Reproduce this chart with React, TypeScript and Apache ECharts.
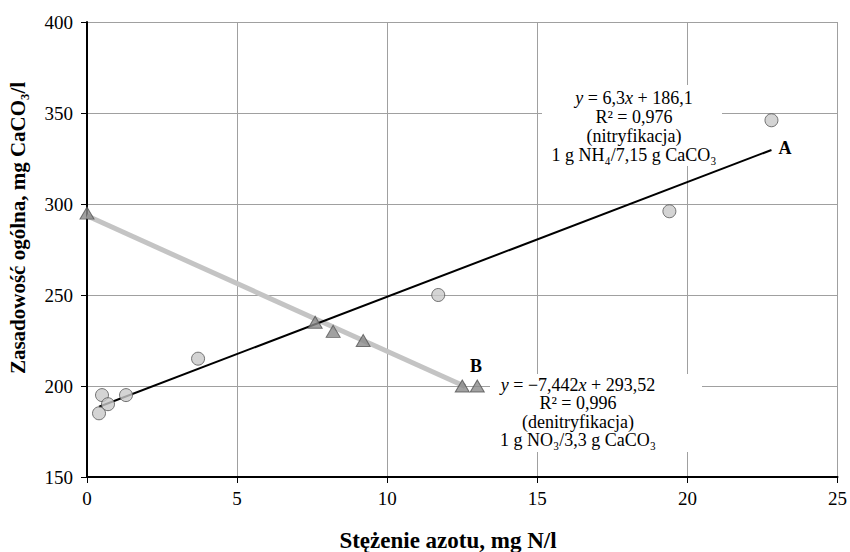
import React, { useEffect, useRef } from "react";
import * as echarts from "echarts";

// Nitrification series (circles)
const circleX = [0.4, 0.5, 0.7, 1.3, 3.7, 11.7, 19.4, 22.8];
const circleY = [185, 195, 190, 195, 215, 250, 296, 346];
// Denitrification series (triangles)
const triX = [0, 7.6, 8.2, 9.2, 12.5, 13.0];
const triY = [295, 235, 230, 225, 200, 200];
// Trend line endpoints
const trendAX = [0.4, 22.8];
const trendAY = [188.6, 329.7];
const trendBX = [0, 12.6];
const trendBY = [293.5, 199.7];

const xTicks = { min: 0, max: 25, interval: 5 };
const yTicks = { min: 150, max: 400, interval: 50 };

const xTitle = "Stężenie azotu, mg N/l";
const yTitle = "Zasadowość ogólna, mg CaCO₃/l";
const annA = "{i|y} = 6,3{i|x} + 186,1\nR² = 0,976\n(nitryfikacja)\n1 g NH₄/7,15 g CaCO₃";
const annB = "{i|y} = −7,442{i|x} + 293,52\nR² = 0,996\n(denitryfikacja)\n1 g NO₃/3,3 g CaCO₃";

const FONT = "Liberation Serif, serif";

const zip = (xs: number[], ys: number[]) => xs.map((x, i) => [x, ys[i]]);

export default function App() {
  const ref = useRef<HTMLDivElement>(null);
  useEffect(() => {
    if (!ref.current) return;
    const chart = echarts.init(ref.current, undefined, { renderer: "svg" });
    const annStyle = (text: string, x: number, y: number, lh: number) => ({
      type: "text",
      x,
      y,
      z: 51,
      style: {
        text,
        fontFamily: FONT,
        fontSize: 18,
        fill: "#000",
        align: "center",
        textAlign: "center",
        verticalAlign: "top",
        textVerticalAlign: "top",
        lineHeight: lh,
        rich: {
          i: { fontFamily: FONT, fontSize: 18, fontStyle: "italic", fill: "#000", lineHeight: lh },
        },
      },
    });
    const boldText = (text: string, x: number, y: number, size: number, rotation = 0) => ({
      type: "text",
      x,
      y,
      rotation,
      z: 51,
      style: {
        text,
        fontFamily: FONT,
        fontSize: size,
        fontWeight: "bold",
        fill: "#000",
        align: "center",
        textAlign: "center",
        verticalAlign: "middle",
        textVerticalAlign: "middle",
      },
    });
    chart.setOption({
      animation: false,
      backgroundColor: "#fff",
      textStyle: { fontFamily: FONT },
      grid: { left: 87, right: 11, top: 22, bottom: 75, containLabel: false },
      xAxis: {
        type: "value",
        min: xTicks.min,
        max: xTicks.max,
        interval: xTicks.interval,
        axisLine: { show: true, lineStyle: { color: "#000", width: 2 } },
        axisTick: { show: true, length: 6, lineStyle: { color: "#000" } },
        axisLabel: { color: "#000", fontFamily: FONT, fontSize: 19, margin: 12 },
        splitLine: { show: true, lineStyle: { color: "#a0a0a0", width: 1 } },
      },
      yAxis: {
        type: "value",
        min: yTicks.min,
        max: yTicks.max,
        interval: yTicks.interval,
        axisLine: { show: true, lineStyle: { color: "#000", width: 2 } },
        axisTick: { show: true, length: 6, lineStyle: { color: "#000" } },
        axisLabel: { color: "#000", fontFamily: FONT, fontSize: 19, margin: 14 },
        splitLine: { show: true, lineStyle: { color: "#a0a0a0", width: 1 } },
      },
      series: [
        {
          type: "line",
          data: zip(trendBX, trendBY),
          symbol: "none",
          lineStyle: { color: "#c4c4c4", width: 5 },
          z: 2,
        },
        {
          type: "line",
          data: zip(trendAX, trendAY),
          symbol: "none",
          lineStyle: { color: "#000", width: 2 },
          z: 3,
        },
        {
          type: "scatter",
          data: zip(circleX, circleY),
          symbol: "circle",
          symbolSize: 13,
          itemStyle: { color: "#c9c9c9", borderColor: "#555", borderWidth: 1 },
          z: 4,
        },
        {
          type: "scatter",
          data: zip(triX, triY),
          symbol: "triangle",
          symbolSize: [14, 12],
          itemStyle: { color: "#8a8a8a", borderColor: "#555", borderWidth: 1 },
          z: 5,
        },
      ],
      graphic: [
        { type: "rect", z: 50, shape: { x: 542, y: 85, width: 180, height: 81 }, style: { fill: "#fff" } },
        { type: "rect", z: 50, shape: { x: 490, y: 374, width: 212, height: 78 }, style: { fill: "#fff" } },
        annStyle(annA, 634, 88, 19),
        annStyle(annB, 578, 376, 18.3),
        boldText("A", 785, 148, 18),
        boldText("B", 476, 366, 18),
        boldText(xTitle, 448, 540, 23),
        boldText(yTitle, 18, 228, 21, Math.PI / 2),
      ],
    });
    return () => chart.dispose();
  }, []);
  return <div ref={ref} style={{ width: 850, height: 552, position: "absolute", left: 0, top: 0 }} />;
}
